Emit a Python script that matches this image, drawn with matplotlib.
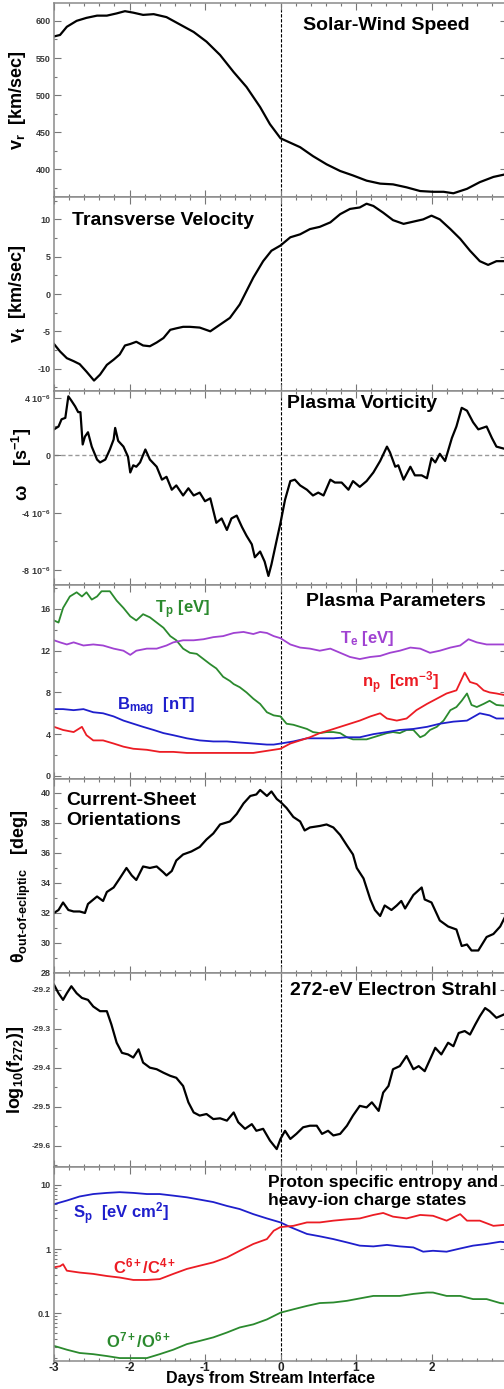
import matplotlib
matplotlib.use('Agg')
import matplotlib.pyplot as plt
from matplotlib.ticker import MultipleLocator, FixedLocator, NullFormatter, LogLocator

plt.rcParams['font.family'] = ['Liberation Sans', 'DejaVu Sans']
plt.rcParams['mathtext.fontset'] = 'custom'
plt.rcParams['mathtext.rm'] = 'Liberation Sans'
plt.rcParams['mathtext.it'] = 'Liberation Sans:italic'
plt.rcParams['mathtext.bf'] = 'Liberation Sans:bold'
plt.rcParams['mathtext.default'] = 'bf'
plt.rcParams['axes.unicode_minus'] = False

# ---- data (days from stream interface) ----
speed_days = [-3.00,-2.92,-2.83,-2.70,-2.57,-2.43,-2.30,-2.17,-2.06,-1.95,-1.82,-1.68,-1.51,-1.33,-1.15,-0.98,
              -0.80,-0.62,-0.45,-0.27,-0.14,0.00,0.13,0.26,0.43,0.61,0.79,0.96,1.14,1.32,1.49,1.67,1.85,2.02,
              2.16,2.29,2.47,2.64,2.82,3.00]
speed = [579,581,592,600,604,607,607,610,613,611,608,609,605,595,585,572,554,531,511,484,461,442,436,430,
         418,407,398,392,385,381,380,376,371,370,370,368,374,383,390,394]

vt_days = [-3.00,-2.92,-2.83,-2.74,-2.66,-2.57,-2.47,-2.39,-2.30,-2.21,-2.13,-2.06,-1.99,-1.91,-1.82,-1.73,
           -1.64,-1.55,-1.46,-1.38,-1.29,-1.20,-1.07,-0.93,-0.80,-0.67,-0.54,-0.45,-0.36,-0.23,-0.12,0.00,
           0.13,0.26,0.39,0.52,0.66,0.79,0.92,1.05,1.14,1.23,1.36,1.49,1.63,1.76,1.89,2.00,2.11,2.25,2.38,
           2.51,2.64,2.75,2.86,3.00]
vt = [-6.7,-7.7,-8.6,-9.0,-9.4,-10.4,-11.6,-10.8,-9.5,-8.8,-8.1,-6.9,-6.7,-6.4,-6.9,-7.0,-6.5,-5.9,-4.8,
      -4.6,-4.4,-4.4,-4.5,-5.0,-4.1,-3.2,-1.4,0.4,2.2,4.4,5.8,6.5,7.6,8.0,8.7,9.0,9.6,10.7,11.4,11.6,12.1,
      11.8,10.9,9.9,9.4,9.7,10.0,10.5,10.0,8.7,7.4,5.8,4.4,3.9,4.4,4.4]

vort_days = [-3.00,-2.94,-2.90,-2.85,-2.81,-2.77,-2.72,-2.68,-2.65,-2.62,-2.59,-2.55,-2.50,-2.43,-2.39,
             -2.32,-2.26,-2.21,-2.19,-2.15,-2.08,-2.02,-1.99,-1.95,-1.91,-1.86,-1.79,-1.73,-1.64,-1.57,
             -1.51,-1.44,-1.38,-1.29,-1.22,-1.15,-1.07,-1.00,-0.93,-0.85,-0.78,-0.71,-0.65,-0.58,-0.51,
             -0.45,-0.38,-0.34,-0.27,-0.21,-0.16,-0.12,-0.05,0.00,0.06,0.13,0.19,0.26,0.35,0.43,0.50,0.57,
             0.66,0.72,0.81,0.90,0.96,1.05,1.14,1.23,1.32,1.41,1.45,1.52,1.56,1.63,1.72,1.78,1.87,1.94,
             2.00,2.05,2.11,2.18,2.27,2.33,2.40,2.47,2.55,2.62,2.73,2.80,2.86,3.00]
vort_e6 = [1.8,2.0,2.5,2.6,4.1,3.8,3.4,3.0,3.0,0.75,1.3,1.6,0.6,-0.3,-0.5,-0.3,0.4,1.1,1.9,1.0,0.6,-0.1,
           -1.2,-0.7,-0.8,-0.5,0.4,-0.3,-0.8,-1.7,-1.5,-2.4,-2.1,-2.8,-2.3,-2.8,-2.6,-3.2,-3.0,-4.7,-4.4,
           -5.2,-4.4,-4.2,-5.0,-5.6,-6.2,-7.1,-6.7,-7.4,-8.4,-7.6,-5.9,-4.7,-3.1,-1.8,-1.7,-2.1,-2.4,-2.8,
           -2.6,-2.8,-1.7,-1.9,-1.9,-2.4,-1.8,-2.2,-1.8,-1.2,-0.4,0.6,0.2,-0.8,-0.7,-1.7,-0.8,-1.4,-1.4,
           -1.6,-0.2,-0.5,0.1,-0.4,1.2,2.0,3.3,3.1,2.3,1.8,2.0,1.2,0.6,0.4]

tp_days = [-3.00,-2.94,-2.88,-2.79,-2.70,-2.63,-2.57,-2.50,-2.43,-2.37,-2.26,-2.17,-2.08,-1.99,-1.91,-1.82,
           -1.73,-1.64,-1.55,-1.46,-1.38,-1.29,-1.20,-1.11,-1.02,-0.93,-0.85,-0.76,-0.67,-0.62,-0.54,-0.45,
           -0.36,-0.27,-0.18,-0.09,0.00,0.08,0.17,0.26,0.35,0.43,0.52,0.61,0.70,0.79,0.88,0.96,1.05,1.14,
           1.23,1.32,1.41,1.49,1.58,1.67,1.76,1.85,1.91,1.98,2.07,2.16,2.25,2.33,2.40,2.47,2.53,2.60,2.69,
           2.77,2.86,3.00]
tp = [14.9,14.7,16.1,17.2,17.6,17.2,17.6,16.9,17.2,17.7,17.7,16.8,16.1,15.3,14.9,15.5,15.2,14.7,14.2,13.4,
      13.0,12.2,11.8,11.7,11.2,10.7,10.3,9.5,9.1,8.8,8.5,8.0,7.4,6.9,6.1,5.8,5.7,5.0,4.9,4.7,4.5,4.2,4.1,
      4.2,4.2,4.1,3.7,3.5,3.5,3.5,3.7,3.9,4.1,4.2,4.1,4.4,4.4,3.7,3.9,4.4,4.7,5.3,6.3,6.6,7.2,7.9,6.8,6.6,
      6.9,7.2,6.8,6.7]

te_days = [-3.00,-2.92,-2.83,-2.74,-2.61,-2.48,-2.35,-2.21,-2.08,-1.99,-1.91,-1.77,-1.64,-1.51,-1.42,-1.29,
           -1.15,-1.02,-0.89,-0.76,-0.62,-0.49,-0.36,-0.27,-0.18,-0.09,0.00,0.13,0.26,0.39,0.52,0.66,0.79,
           0.92,1.05,1.19,1.32,1.45,1.58,1.72,1.85,1.98,2.11,2.25,2.38,2.49,2.60,2.73,2.86,3.00]
te = [13.0,12.8,12.6,12.8,12.5,12.6,12.5,12.2,12.0,11.6,12.0,12.2,12.2,12.5,12.8,13.0,13.0,13.1,13.3,13.4,
      13.7,13.8,13.6,13.8,13.7,13.4,13.2,12.6,12.3,12.2,12.0,12.2,11.8,11.4,11.2,11.4,11.5,11.8,12.0,12.3,
      12.2,11.8,12.0,12.3,12.5,13.1,12.8,12.6,12.6,12.6]

bmag_days = [-3.00,-2.88,-2.74,-2.61,-2.48,-2.35,-2.21,-2.08,-1.95,-1.82,-1.68,-1.55,-1.42,-1.24,-1.07,-0.89,
             -0.71,-0.54,-0.36,-0.18,-0.09,0.00,0.17,0.35,0.52,0.70,0.88,1.05,1.23,1.41,1.58,1.76,1.94,
             2.11,2.29,2.47,2.64,2.77,2.86,3.00]
bmag = [6.4,6.4,6.3,6.4,6.1,6.0,5.7,5.3,5.0,4.7,4.4,4.1,3.9,3.6,3.4,3.3,3.3,3.2,3.1,3.0,3.0,3.1,3.3,3.6,
        3.6,3.6,3.7,3.7,4.0,4.2,4.4,4.5,4.7,5.0,5.2,5.3,6.0,5.8,5.5,5.5]

np_days = [-3.00,-2.88,-2.74,-2.63,-2.57,-2.48,-2.35,-2.21,-2.08,-1.95,-1.77,-1.60,-1.42,-1.24,-1.07,-0.89,
           -0.71,-0.54,-0.36,-0.18,0.00,0.13,0.26,0.39,0.52,0.66,0.79,0.92,1.05,1.19,1.32,1.41,1.54,1.67,
           1.80,1.94,2.07,2.20,2.33,2.44,2.51,2.60,2.69,2.77,2.86,3.00]
n_p = [4.7,4.4,4.2,4.7,3.9,3.4,3.4,3.1,2.8,2.6,2.5,2.3,2.3,2.2,2.2,2.2,2.2,2.2,2.2,2.4,2.6,3.1,3.4,3.7,
       4.1,4.4,4.7,5.0,5.3,5.7,6.0,5.5,5.3,5.5,6.3,6.9,7.4,7.9,8.2,9.9,9.0,8.8,8.2,8.0,7.9,7.7]

theta_days = [-3.00,-2.94,-2.88,-2.81,-2.74,-2.66,-2.59,-2.55,-2.43,-2.35,-2.30,-2.21,-2.13,-2.04,-1.97,
              -1.91,-1.82,-1.73,-1.64,-1.55,-1.51,-1.44,-1.38,-1.29,-1.18,-1.07,-0.98,-0.89,-0.80,-0.67,
              -0.58,-0.49,-0.40,-0.32,-0.27,-0.18,-0.12,-0.05,0.00,0.08,0.17,0.26,0.32,0.39,0.52,0.61,0.70,
              0.79,0.88,0.96,1.01,1.10,1.19,1.25,1.32,1.38,1.47,1.54,1.60,1.65,1.76,1.87,1.91,2.00,2.11,
              2.22,2.33,2.40,2.47,2.53,2.62,2.73,2.82,2.91,3.00]
theta = [32.0,32.2,32.7,32.2,32.1,32.1,32.0,32.6,33.1,32.8,33.4,33.7,34.3,35.0,34.5,34.2,35.1,35.0,35.1,
         34.7,34.5,34.8,35.5,35.9,36.1,36.4,36.9,37.3,37.9,38.1,38.6,39.3,39.8,39.9,40.2,39.8,40.1,39.6,
         39.4,39.0,38.4,38.1,37.5,37.7,37.8,37.9,37.7,37.2,36.5,35.9,35.0,34.3,32.9,32.2,31.8,32.5,32.2,
         32.5,32.8,32.3,33.2,33.7,32.9,32.7,31.5,31.1,30.9,29.8,29.9,29.5,29.5,30.4,30.6,31.1,32.0]

strahl_days = [-3.00,-2.94,-2.88,-2.83,-2.77,-2.70,-2.63,-2.55,-2.48,-2.39,-2.30,-2.24,-2.17,-2.10,-2.02,
               -1.95,-1.88,-1.82,-1.73,-1.64,-1.55,-1.46,-1.38,-1.29,-1.22,-1.15,-1.07,-0.98,-0.89,-0.80,
               -0.71,-0.62,-0.56,-0.47,-0.38,-0.32,-0.23,-0.14,-0.05,0.00,0.06,0.13,0.21,0.30,0.39,0.48,
               0.55,0.63,0.70,0.79,0.88,0.96,1.05,1.14,1.21,1.30,1.36,1.43,1.49,1.58,1.67,1.76,1.83,1.91,
               1.98,2.05,2.13,2.22,2.29,2.36,2.44,2.51,2.58,2.64,2.71,2.77,2.86,3.00]
strahl = [-29.187,-29.209,-29.226,-29.209,-29.191,-29.209,-29.221,-29.226,-29.243,-29.255,-29.255,-29.289,
          -29.336,-29.362,-29.366,-29.374,-29.353,-29.387,-29.400,-29.404,-29.413,-29.421,-29.426,-29.447,
          -29.489,-29.515,-29.523,-29.519,-29.532,-29.530,-29.536,-29.515,-29.540,-29.557,-29.545,-29.562,
          -29.557,-29.587,-29.609,-29.583,-29.562,-29.583,-29.570,-29.553,-29.549,-29.549,-29.570,-29.562,
          -29.574,-29.570,-29.549,-29.523,-29.498,-29.502,-29.489,-29.511,-29.464,-29.447,-29.404,-29.396,
          -29.370,-29.404,-29.396,-29.409,-29.379,-29.349,-29.366,-29.336,-29.345,-29.311,-29.306,-29.315,
          -29.289,-29.268,-29.247,-29.255,-29.272,-29.260]

sp_days = [-3.00,-2.83,-2.66,-2.48,-2.30,-2.13,-1.95,-1.77,-1.60,-1.42,-1.24,-1.07,-0.89,-0.71,-0.54,-0.36,
           -0.18,0.00,0.13,0.35,0.52,0.70,0.88,1.05,1.23,1.41,1.58,1.76,1.89,2.02,2.20,2.38,2.55,2.73,2.91,3.00]
s_p = [5.0,5.7,6.6,7.2,7.5,7.7,7.5,7.2,7.2,6.8,6.4,5.9,5.4,4.7,4.2,3.5,3.0,2.6,2.2,1.72,1.58,1.43,1.27,
       1.13,1.10,1.16,1.10,1.06,0.91,0.94,0.91,1.02,1.13,1.2,1.3,1.27]

c64_days = [-3.00,-2.92,-2.88,-2.83,-2.66,-2.48,-2.30,-2.13,-1.95,-1.77,-1.60,-1.42,-1.24,-1.07,-0.89,-0.71,
            -0.54,-0.36,-0.18,-0.09,0.00,0.17,0.35,0.52,0.70,0.88,1.05,1.23,1.36,1.49,1.67,1.85,2.02,2.20,
            2.38,2.47,2.64,2.82,3.00]
c64 = [0.52,0.54,0.58,0.46,0.43,0.41,0.38,0.36,0.33,0.33,0.34,0.41,0.49,0.55,0.62,0.74,0.94,1.2,1.43,1.93,
       2.2,2.3,2.6,2.6,2.77,2.9,3.0,3.4,3.65,3.2,3.0,3.4,3.3,2.77,3.5,2.77,2.77,2.3,2.4]

o76_days = [-3.00,-2.83,-2.66,-2.48,-2.30,-2.13,-1.95,-1.77,-1.60,-1.42,-1.24,-1.07,-0.89,-0.71,-0.54,-0.36,
            -0.18,0.00,0.17,0.35,0.52,0.70,0.88,1.05,1.23,1.41,1.58,1.76,1.94,2.02,2.20,2.38,2.55,2.73,2.91,3.00]
o76 = [0.031,0.027,0.024,0.023,0.0215,0.020,0.020,0.020,0.023,0.027,0.033,0.037,0.042,0.050,0.060,0.067,
       0.080,0.102,0.115,0.13,0.144,0.147,0.156,0.17,0.186,0.186,0.186,0.2,0.21,0.21,0.186,0.186,0.166,
       0.166,0.144,0.14]

GREEN = '#2b8a2e'
PURPLE = '#a042d2'
RED = '#ec1c24'
BLUE = '#1f1fcc'
FRAME = '#8a8a8a'

fig = plt.figure(figsize=(5.04, 13.89), dpi=100)

L = 54 / 504
W = 453 / 504
PH = 194
axes = []
for i in range(7):
    top = 3 + PH * i
    ax = fig.add_axes([L, 1 - (top + PH) / 1389, W, PH / 1389])
    axes.append(ax)


def style(ax, bottom=False):
    ax.set_xlim(-3, 3)
    ax.xaxis.set_major_locator(MultipleLocator(1))
    ax.xaxis.set_minor_locator(MultipleLocator(0.2))
    ax.tick_params(which='both', direction='in', top=True, right=True, color='#777777', width=0.8,
                   labelsize=6.5, labelcolor='#3a3a3a', pad=2.5)
    ax.tick_params(which='major', length=5)
    ax.tick_params(which='minor', length=2.5)
    for s in ax.spines.values():
        s.set_color(FRAME)
        s.set_linewidth(1.1)
    if not bottom:
        ax.tick_params(axis='x', labelbottom=False)
    ax.axvline(0, color='black', lw=0.8, ls=(0, (3, 1.5)), zorder=1)


def bold_ticks(ax):
    for lab in ax.get_yticklabels():
        lab.set_fontweight('bold')


def title(ax, x, y, s, size=14):
    ax.text(x, y, s, transform=ax.transAxes, fontsize=size, fontweight='bold', va='baseline', ha='left')


YL = 13

# panel 1
ax = axes[0]
style(ax)
ax.plot(speed_days, speed, color='black', lw=1.6)
ax.set_ylim(363, 624)
ax.yaxis.set_major_locator(FixedLocator([400, 450, 500, 550, 600]))
ax.yaxis.set_minor_locator(MultipleLocator(25))
ax.set_ylabel(r'v$_r$  [km/sec]', fontsize=YL, fontweight='bold')
ax.yaxis.set_label_coords(-0.057, 0.5)
title(ax, 0.55, 0.861, 'Solar-Wind Speed')

# panel 2
ax = axes[1]
style(ax)
ax.plot(vt_days, vt, color='black', lw=1.6)
ax.set_ylim(-13, 13)
ax.yaxis.set_major_locator(FixedLocator([-10, -5, 0, 5, 10]))
ax.yaxis.set_minor_locator(MultipleLocator(2.5))
ax.set_ylabel(r'v$_t$  [km/sec]', fontsize=YL, fontweight='bold')
ax.yaxis.set_label_coords(-0.057, 0.5)
title(ax, 0.04, 0.856, 'Transverse Velocity')

# panel 3
ax = axes[2]
style(ax)
ax.axhline(0, color='#999999', lw=1.0, ls=(0, (3, 2)), zorder=1)
ax.plot(vort_days, vort_e6, color='black', lw=1.6)
ax.set_ylim(-9.03, 4.47)
ax.yaxis.set_major_locator(FixedLocator([-8, -4, 0, 4]))
ax.yaxis.set_minor_locator(MultipleLocator(2))
ax.set_yticklabels([r'-8 10$^{-6}$', r'-4 10$^{-6}$', '0', r'4 10$^{-6}$'])
ax.set_ylabel(r'$\omega$    [s$^{-1}$]', fontsize=YL, fontweight='bold')
ax.yaxis.set_label_coords(-0.045, 0.62)
title(ax, 0.514, 0.912, 'Plasma Vorticity')

# panel 4
ax = axes[3]
style(ax)
ax.plot(tp_days, tp, color=GREEN, lw=1.3)
ax.plot(te_days, te, color=PURPLE, lw=1.3)
ax.plot(bmag_days, bmag, color=BLUE, lw=1.3)
ax.plot(np_days, n_p, color=RED, lw=1.3)
ax.set_ylim(-0.3, 18.3)
ax.yaxis.set_major_locator(FixedLocator([0, 4, 8, 12, 16]))
ax.yaxis.set_minor_locator(MultipleLocator(2))
title(ax, 0.556, 0.892, 'Plasma Parameters')
ax.text(-1.66, 15.55, r'T$_p$ [eV]', color=GREEN, fontsize=12, fontweight='bold')
ax.text(0.79, 12.7, r'T$_e$ [eV]', color=PURPLE, fontsize=12, fontweight='bold')
ax.text(1.08, 8.5, r'n$_p$  [cm$^{-3}$]', color=RED, fontsize=12, fontweight='bold')
ax.text(-2.17, 6.3, r'B$_{mag}$  [nT]', color=BLUE, fontsize=12, fontweight='bold')

# panel 5
ax = axes[4]
style(ax)
ax.plot(theta_days, theta, color='black', lw=1.6)
ax.set_ylim(28, 40.93)
ax.yaxis.set_major_locator(MultipleLocator(2))
ax.yaxis.set_minor_locator(MultipleLocator(1))
ax.set_ylabel('$\\theta_{out\u2010of\u2010ecliptic}$   [deg]', fontsize=YL, fontweight='bold')
ax.yaxis.set_label_coords(-0.046, 0.45)
title(ax, 0.026, 0.866, 'Current-Sheet')
title(ax, 0.026, 0.763, 'Orientations')

# panel 6
ax = axes[5]
style(ax)
ax.plot(strahl_days, strahl, color='black', lw=1.6)
ax.set_ylim(-29.655, -29.157)
ax.yaxis.set_major_locator(FixedLocator([-29.6, -29.5, -29.4, -29.3, -29.2]))
ax.yaxis.set_minor_locator(MultipleLocator(0.05))
ax.set_yticklabels(['-29.6', '-29.5', '-29.4', '-29.3', '-29.2'])
ax.tick_params(axis='y', labelsize=6)
ax.set_ylabel(r'log$_{10}$(f$_{272}$)]', fontsize=YL, fontweight='bold')
ax.yaxis.set_label_coords(-0.062, 0.5)
title(ax, 0.521, 0.887, '272-eV Electron Strahl')

# panel 7
ax = axes[6]
style(ax, bottom=True)
ax.set_yscale('log')
ax.plot(sp_days, s_p, color=BLUE, lw=1.3)
ax.plot(c64_days, c64, color=RED, lw=1.3)
ax.plot(o76_days, o76, color=GREEN, lw=1.3)
ax.set_ylim(0.018, 19)
ax.yaxis.set_major_locator(FixedLocator([0.1, 1, 10]))
ax.yaxis.set_minor_locator(LogLocator(subs=range(2, 10)))
ax.yaxis.set_minor_formatter(NullFormatter())
ax.set_yticklabels(['0.1', '1', '10'])
ax.tick_params(axis='x', labelsize=8.5, labelcolor='#222222', pad=0.5)
for lab in ax.get_xticklabels():
    lab.set_fontweight('bold')
ax.set_xlabel('Days from Stream Interface', fontsize=11.5, fontweight='bold', va='top')
ax.xaxis.set_label_coords(0.477, -0.052)
title(ax, 0.472, 0.897, 'Proton specific entropy and', size=12.5)
title(ax, 0.472, 0.804, 'heavy-ion charge states', size=12.5)
ax.text(-2.75, 2.95, r'S$_p$  [eV cm$^2$]', color=BLUE, fontsize=12, fontweight='bold')
ax.text(-2.22, 0.41, r'C$^{6+}$/C$^{4+}$', color=RED, fontsize=12, fontweight='bold')
ax.text(-2.31, 0.0295, r'O$^{7+}$/O$^{6+}$', color=GREEN, fontsize=12, fontweight='bold')

for ax in axes:
    bold_ticks(ax)

fig.savefig('out.png', dpi=100)
